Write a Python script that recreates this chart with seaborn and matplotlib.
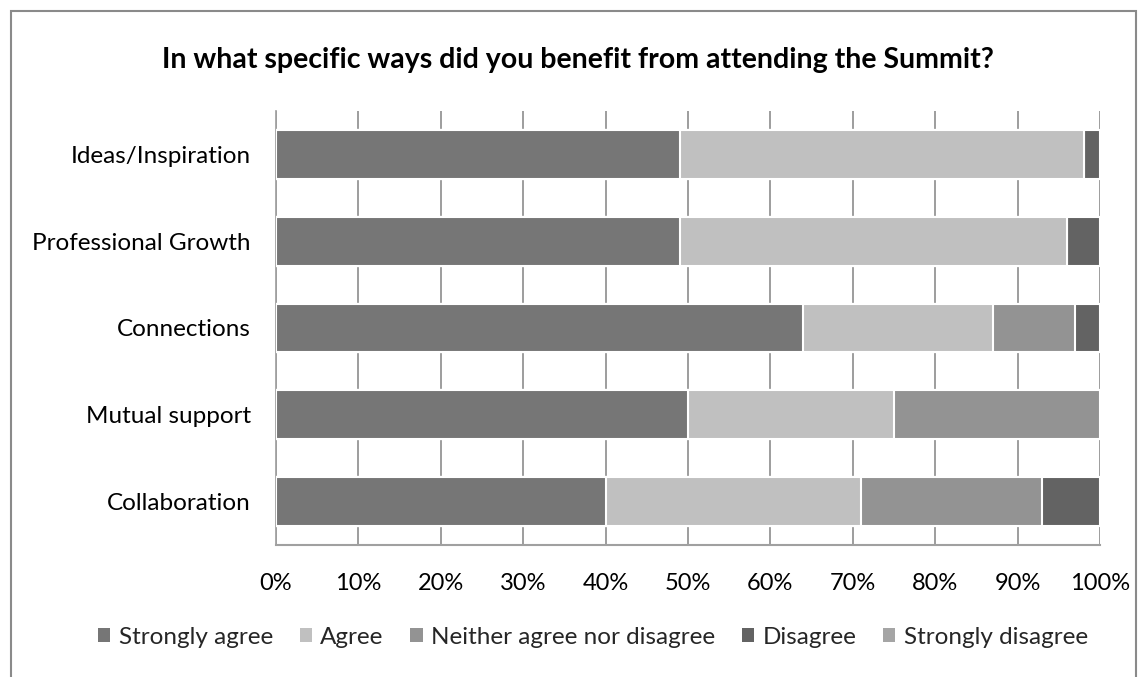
import matplotlib
matplotlib.use("Agg")
import matplotlib.pyplot as plt
import seaborn as sns
import numpy as np
import pandas as pd
from matplotlib.patches import Rectangle, Patch

categories = ["Ideas/Inspiration", "Professional Growth", "Connections", "Mutual support", "Collaboration"]
series = ["Strongly agree", "Agree", "Neither agree nor disagree", "Disagree", "Strongly disagree"]
strongly_agree = [49, 49, 64, 50, 40]
agree = [49, 47, 23, 25, 31]
neither = [0, 0, 10, 25, 22]
disagree = [2, 4, 3, 0, 7]
strongly_disagree = [0, 0, 0, 0, 0]
colors = ["#767676", "#c0c0c0", "#939393", "#636363", "#a5a5a5"]
xticklabels = ["0%", "10%", "20%", "30%", "40%", "50%", "60%", "70%", "80%", "90%", "100%"]

sns.set_theme(style="white")
plt.rcParams["font.family"] = ["Lato", "DejaVu Sans"]

vals = np.array([strongly_agree, agree, neither, disagree, strongly_disagree], dtype=float)
cum = np.cumsum(vals, axis=0)

fig = plt.figure(figsize=(11.47, 6.77), dpi=100)
ax = fig.add_axes([276/1147, 1 - 545/677, 824/1147, 434/677])

for i in range(len(series) - 1, -1, -1):
    df = pd.DataFrame({"cat": categories, "val": cum[i]})
    sns.barplot(data=df, y="cat", x="val", orient="h", color=colors[i], ax=ax,
                width=0.56, edgecolor="white", linewidth=1.5, saturation=1, zorder=3)

ax.set_xlim(0, 100)
ax.set_xticks(np.arange(0, 101, 10))
ax.set_xticklabels(xticklabels, fontsize=17, color="black")
ax.tick_params(axis="x", pad=20, length=0)
ax.tick_params(axis="y", pad=18, length=0, labelsize=17.5, labelcolor="black")
ax.set_xlabel("")
ax.set_ylabel("")
ax.grid(axis="x", color="#8c8c8c", linewidth=1.2, zorder=0)
ax.set_axisbelow(True)
for s in ["top", "right"]:
    ax.spines[s].set_visible(False)
ax.spines["left"].set_color("#a0a0a0")
ax.spines["bottom"].set_color("#a0a0a0")
ax.spines["bottom"].set_linewidth(1.5)

fig.text(578/1147, 1 - 60/677, "In what specific ways did you benefit from attending the Summit?",
         ha="center", va="center", fontsize=20.5, fontweight="bold", color="black")

handles = [Patch(facecolor=colors[i], edgecolor="none", label=series[i]) for i in range(len(series))]
fig.legend(handles=handles, loc="center", bbox_to_anchor=(593/1147, 1 - 637/677), ncol=5,
           frameon=False, fontsize=17.5, handlelength=0.5, handleheight=0.5,
           handletextpad=0.35, columnspacing=1.1)

fig.patches.append(Rectangle((11/1147, -0.05), 1125/1147, 1 - 11/677 + 0.05,
                             transform=fig.transFigure, fill=False, edgecolor="#8a8a8a", linewidth=1.5))

fig.savefig("out.png", dpi=100)
